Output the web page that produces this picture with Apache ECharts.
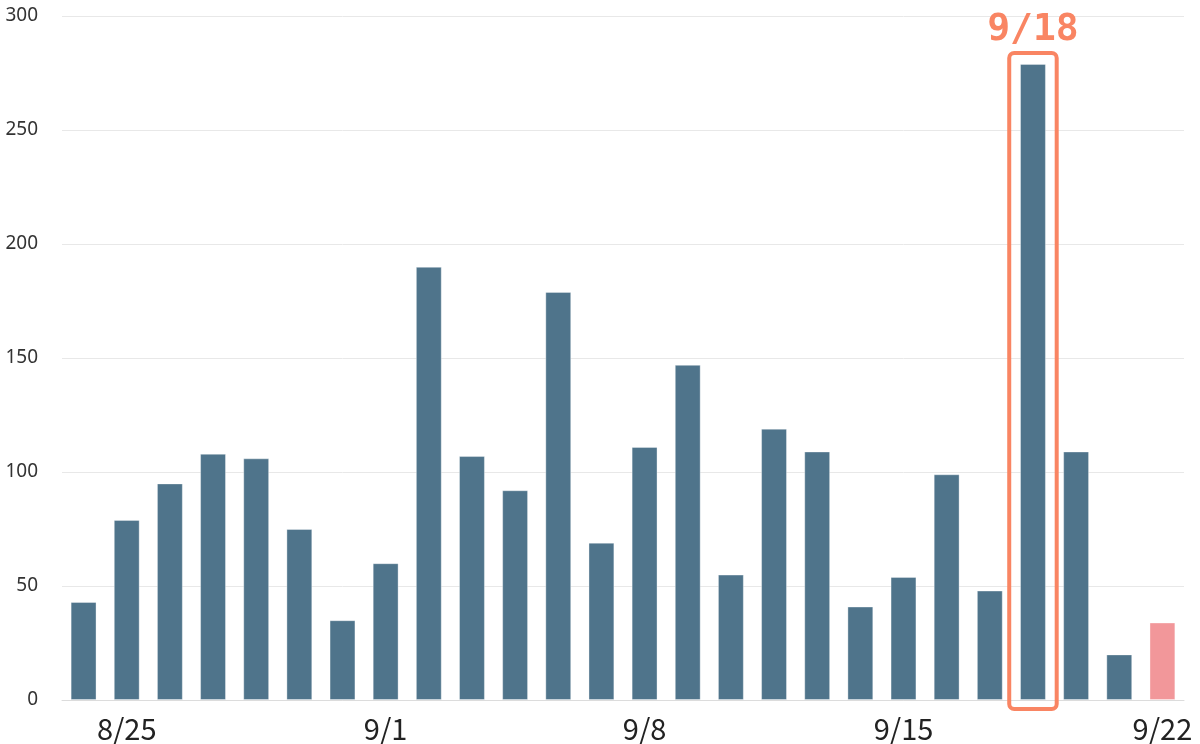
<!DOCTYPE html>
<html>
<head>
<meta charset="utf-8">
<script src="https://cdn.jsdelivr.net/npm/echarts@6/dist/echarts.min.js"></script>
<style>html,body{margin:0;padding:0;background:#fff}#c{width:1200px;height:744px}</style>
</head>
<body>
<div id="c"></div>
<script>
const categories = ['8/24','8/25','8/26','8/27','8/28','8/29','8/31','9/1','9/2','9/3','9/4','9/5','9/7','9/8','9/9','9/10','9/11','9/12','9/14','9/15','9/16','9/17','9/18','9/19','9/21','9/22'];
const values = [43,79,95,108,106,75,35,60,190,107,92,179,69,111,147,55,119,109,41,54,99,48,279,109,20,34];
const tickLabels = ['8/25','9/1','9/8','9/15','9/22'];
const highlightDate = '9/18';
const partialDate = '9/22';
const yTicks = [0,50,100,150,200,250,300];

const barColor = '#4f748b';
const partialColor = '#f2979a';
const accent = '#f98563';

const barData = values.map((v,i)=>({
  value: v,
  itemStyle: { color: categories[i] === partialDate ? partialColor : barColor }
}));
const hi = categories.indexOf(highlightDate);

const chart = echarts.init(document.getElementById('c'));
chart.setOption({
  animation: false,
  grid: { left: 62, right: 16, top: 16, bottom: 44, containLabel: false },
  xAxis: {
    type: 'category',
    data: categories,
    axisLine: { show: true, lineStyle: { color: '#dcdcdc', width: 1 } },
    axisTick: { show: false },
    axisLabel: {
      interval: 0,
      formatter: v => tickLabels.includes(v) ? v : '',
      color: '#222', fontSize: 29, fontFamily: '"Noto Sans CJK JP"', fontWeight: 'normal',
      margin: 14
    }
  },
  yAxis: {
    type: 'value', min: yTicks[0], max: yTicks[yTicks.length-1], interval: 50,
    axisLine: { show: false }, axisTick: { show: false },
    splitLine: { lineStyle: { color: '#e8e8e8', width: 1 } },
    axisLabel: { color: '#333', fontSize: 19, fontFamily: 'Noto Sans', margin: 24 }
  },
  series: [
    {
      type: 'bar', data: barData, barWidth: '60%',
      itemStyle: { borderColor: 'rgba(255,255,255,0.35)', borderWidth: 1 }
    },
    {
      type: 'custom',
      data: [[hi, values[hi]]],
      z: 10,
      renderItem: function (params, api) {
        const top = api.coord([api.value(0), api.value(1)]);
        const base = api.coord([api.value(0), 0]);
        const band = api.size([1, 0])[0];
        const w = band * 1.1;
        const x = top[0] - w / 2;
        const y1 = top[1] - 11;
        const y2 = base[1] + 9;
        return {
          type: 'group',
          children: [
            { type: 'rect', shape: { x: x, y: y1, width: w, height: y2 - y1, r: 5 },
              style: { fill: 'none', stroke: accent, lineWidth: 4 } },
            { type: 'text', style: { x: top[0], y: y1 - 4, text: categories[api.value(0)],
              fill: accent, font: 'bold 38px "DejaVu Sans Mono"', align: 'center', verticalAlign: 'bottom' } }
          ]
        };
      }
    }
  ]
});
</script>
</body>
</html>
